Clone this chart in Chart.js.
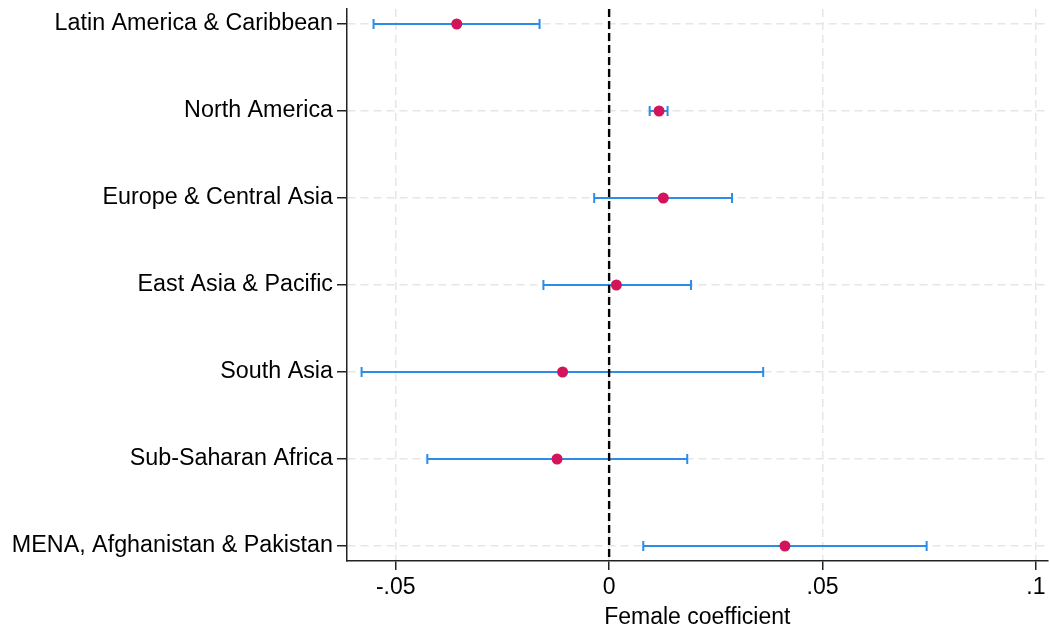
<!DOCTYPE html>
<html>
<head>
<meta charset="utf-8">
<script src="https://cdn.jsdelivr.net/npm/chart.js@4"></script>
<style>
  html, body { margin: 0; padding: 0; background: #ffffff; }
  #wrap { width: 1050px; height: 633px; }
</style>
</head>
<body>
<div id="wrap"><canvas id="c" width="1050" height="633"></canvas></div>
<script>
// ---- data ----
const categories = [
  "Latin America & Caribbean",
  "North America",
  "Europe & Central Asia",
  "East Asia & Pacific",
  "South Asia",
  "Sub-Saharan Africa",
  "MENA, Afghanistan & Pakistan"
];
const estimates = [-0.0357, 0.0117, 0.0127, 0.0017, -0.0109, -0.0122, 0.0412];
const ciLower   = [-0.0552, 0.0095, -0.0035, -0.0154, -0.0580, -0.0426, 0.0080];
const ciUpper   = [-0.0163, 0.0137, 0.0288, 0.0192, 0.0361, 0.0183, 0.0744];
const xTickValues = [-0.05, 0, 0.05, 0.1];
const xTickLabels = ["-.05", "0", ".05", ".1"];
const referenceLine = [0];
const xTitle = "Female coefficient";

// ---- build ----
const FONT = "'Liberation Sans', Arial, Helvetica, sans-serif";
const BLUE = "#2b8ce9";
const RED = "#d3145a";
const yMin = -0.1725, yMax = categories.length - 1 + 0.1725;

const datasets = [];
datasets.push({
  type: 'scatter',
  label: 'estimate',
  data: estimates.map((v, i) => ({x: v, y: i})),
  pointStyle: 'circle',
  pointRadius: 5.5,
  pointBackgroundColor: RED,
  pointBorderWidth: 0,
  order: 0
});
referenceLine.forEach(v => {
  datasets.push({
    type: 'line',
    label: 'ref',
    data: [{x: v, y: yMin}, {x: v, y: yMax}],
    borderColor: '#000000',
    borderWidth: 2.4,
    borderDash: [8, 4],
    pointRadius: 0,
    fill: false,
    order: 1
  });
});
categories.forEach((c, i) => {
  datasets.push({
    type: 'line',
    label: 'ci' + i,
    data: [{x: ciLower[i], y: i}, {x: ciUpper[i], y: i}],
    borderColor: BLUE,
    borderWidth: 2,
    pointStyle: 'line',
    rotation: 90,
    pointRadius: 5,
    pointBorderColor: BLUE,
    pointBorderWidth: 2,
    pointBackgroundColor: BLUE,
    fill: false,
    order: 2
  });
});

new Chart(document.getElementById('c'), {
  type: 'scatter',
  data: { datasets },
  options: {
    responsive: false,
    animation: false,
    devicePixelRatio: 1,
    layout: { autoPadding: false, padding: { top: 9, right: 2.5, left: 0, bottom: 0 } },
    plugins: { legend: { display: false }, tooltip: { enabled: false } },
    elements: { line: { tension: 0 } },
    scales: {
      x: {
        type: 'linear',
        position: 'bottom',
        min: -0.06142,
        max: 0.10272,
        afterBuildTicks: s => { s.ticks = xTickValues.map(v => ({value: v})); },
        afterFit: s => { s.height = 72; s.paddingLeft = 0; s.paddingRight = 0; },
        ticks: {
          callback: (v, i) => xTickLabels[i],
          color: '#000',
          font: { family: FONT, size: 23 },
          padding: 4,
          maxRotation: 0,
          autoSkip: false
        },
        grid: {
          color: '#e6e6e6',
          lineWidth: 1.5,
          tickLength: 9,
          tickColor: '#222',
          tickWidth: 1.5,
          tickBorderDash: []
        },
        border: { display: true, color: '#222', width: 1.5, dash: [8, 5] },
        title: {
          display: true,
          text: xTitle,
          color: '#000',
          font: { family: FONT, size: 23 },
          padding: { top: 0, bottom: 2 }
        }
      },
      y: {
        type: 'linear',
        position: 'left',
        reverse: true,
        min: yMin,
        max: yMax,
        afterBuildTicks: s => { s.ticks = categories.map((c, i) => ({value: i})); },
        afterFit: s => { s.width = 347; s.paddingTop = 0; s.paddingBottom = 0; },
        ticks: {
          callback: (v) => categories[v],
          color: '#000',
          font: { family: FONT, size: 23.3 },
          padding: 4,
          autoSkip: false
        },
        grid: {
          color: '#e6e6e6',
          lineWidth: 1.5,
          tickLength: 10,
          tickColor: '#222',
          tickWidth: 1.5,
          tickBorderDash: []
        },
        border: { display: true, color: '#222', width: 1.5, dash: [8, 5] }
      }
    }
  }
});
</script>
</body>
</html>
